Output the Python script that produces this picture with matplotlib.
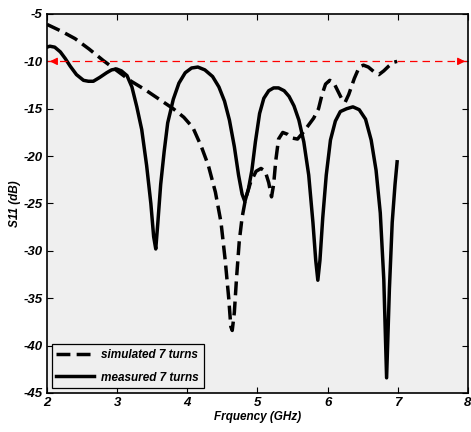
import matplotlib
matplotlib.use("Agg")
from matplotlib import pyplot as plt

# measured S11 (solid)
meas_f = [2.00, 2.04, 2.11, 2.19, 2.26, 2.33, 2.42, 2.52, 2.59, 2.66, 2.75, 2.85, 2.92, 2.99,
          3.06, 3.14, 3.21, 3.28, 3.35, 3.42, 3.48, 3.52, 3.55, 3.58, 3.62, 3.67, 3.72,
          3.80, 3.88, 3.97, 4.06, 4.15, 4.25, 4.36, 4.45, 4.53, 4.60, 4.67, 4.73, 4.78,
          4.82, 4.87, 4.92, 4.97, 5.03, 5.09, 5.16, 5.23, 5.30, 5.38, 5.45, 5.52, 5.59,
          5.66, 5.73, 5.79, 5.83, 5.86, 5.89, 5.93, 5.98, 6.04, 6.11, 6.18, 6.27, 6.36,
          6.45, 6.54, 6.62, 6.69, 6.75, 6.80, 6.84, 6.88, 6.92, 6.96, 6.99]
meas_s11 = [-8.5, -8.4, -8.5, -9.0, -9.7, -10.5, -11.4, -12.0, -12.1, -12.1, -11.7, -11.2, -10.9, -10.8,
            -11.0, -11.5, -12.7, -14.8, -17.2, -21.0, -25.0, -28.5, -29.8, -27.0, -23.0, -19.5, -16.5,
            -14.0, -12.3, -11.2, -10.7, -10.6, -10.9, -11.6, -12.7, -14.2, -16.2, -19.0, -22.0, -24.0,
            -24.8, -23.5, -21.5, -18.5, -15.5, -13.9, -13.1, -12.8, -12.8, -13.1, -13.7, -14.7, -16.2,
            -18.5, -22.0, -27.0, -31.0, -33.1, -31.0, -26.5, -22.0, -18.3, -16.3, -15.3, -15.0, -14.8,
            -15.1, -16.1, -18.3, -21.5, -26.0, -33.0, -43.4, -34.0, -27.0, -23.0, -20.6]

# simulated S11 (dashed)
sim_f = [2.00, 2.20, 2.40, 2.60, 2.80, 3.00, 3.20, 3.40, 3.60, 3.80, 3.95, 4.08, 4.20, 4.30,
         4.40, 4.48, 4.54, 4.59, 4.62, 4.64, 4.67, 4.70, 4.74, 4.78, 4.83, 4.90, 4.98, 5.05,
         5.11, 5.16, 5.20, 5.23, 5.26, 5.30, 5.36, 5.43, 5.50, 5.57, 5.65, 5.72, 5.80, 5.87,
         5.92, 5.97, 6.03, 6.09, 6.15, 6.21, 6.25, 6.30, 6.38, 6.45, 6.51, 6.58, 6.66, 6.73,
         6.80, 6.87, 6.94, 6.99]
sim_s11 = [-6.1, -6.8, -7.6, -8.7, -9.9, -11.0, -12.1, -13.0, -14.0, -15.0, -15.9, -17.0, -19.0, -21.0,
           -23.8, -27.0, -31.0, -35.0, -38.0, -38.4, -36.5, -33.0, -29.0, -26.5, -24.5, -22.8, -21.6, -21.3,
           -21.6, -22.8, -24.3, -23.0, -20.5, -18.2, -17.5, -17.7, -18.1, -18.2, -17.5, -16.8, -16.0, -15.0,
           -13.5, -12.4, -12.0, -12.3, -13.2, -14.1, -14.3, -13.5, -11.8, -10.6, -10.4, -10.6, -11.1, -11.4,
           -11.0, -10.5, -10.1, -10.0]

threshold = -10
x_ticks = [2, 3, 4, 5, 6, 7, 8]
y_ticks = [-45, -40, -35, -30, -25, -20, -15, -10, -5]

plt.rcParams["font.family"] = ["Liberation Sans", "DejaVu Sans"]
plt.rcParams["axes.unicode_minus"] = False

fig = plt.figure(figsize=(4.71, 4.32), dpi=100)
ax = fig.add_axes([0.0998, 0.0903, 0.8938, 0.8773])
ax.set_facecolor("#efefef")

ax.plot(sim_f, sim_s11, color="black", lw=2.5, linestyle=(0, (4, 1.8)), label="simulated 7 turns")
ax.plot(meas_f, meas_s11, color="black", lw=2.5, label="measured 7 turns")

# -10 dB reference line with arrows
ax.plot([x_ticks[0], x_ticks[-1]], [threshold, threshold], color="red", lw=0.9, linestyle=(0, (6, 4)))
ax.annotate("", xy=(x_ticks[0], threshold), xytext=(x_ticks[0] + 0.15, threshold),
            arrowprops=dict(arrowstyle="-|>", color="red", lw=0.9, mutation_scale=11))
ax.annotate("", xy=(x_ticks[-1], threshold), xytext=(x_ticks[-1] - 0.15, threshold),
            arrowprops=dict(arrowstyle="-|>", color="red", lw=0.9, mutation_scale=11),
            annotation_clip=False)

ax.set_xlim(2, 8)
ax.set_ylim(-45, -5)
ax.set_xticks(x_ticks)
ax.set_yticks(y_ticks)
ax.set_xticklabels([str(v) for v in x_ticks], fontsize=9.5, fontweight="bold", fontstyle="italic")
ax.set_yticklabels([str(v) for v in y_ticks], fontsize=9.5, fontweight="bold", fontstyle="italic")
ax.tick_params(direction="in", length=4, width=0.8, top=True, right=True, pad=3)
for s in ax.spines.values():
    s.set_linewidth(1.2)

ax.set_xlabel("Frquency (GHz)", fontsize=8.5, fontweight="bold", fontstyle="italic", labelpad=1)
ax.set_ylabel("S11 (dB)", fontsize=8.5, fontweight="bold", fontstyle="italic", labelpad=2)

leg = ax.legend(loc="lower left", fontsize=8.5, handlelength=3.2, fancybox=False,
                framealpha=1, facecolor="#efefef", edgecolor="black",
                borderaxespad=0.4, labelspacing=0.9, handletextpad=0.6,
                prop={"size": 8.5, "weight": "bold", "style": "italic"})
leg.get_frame().set_linewidth(0.9)

fig.savefig("out.png", dpi=100)
